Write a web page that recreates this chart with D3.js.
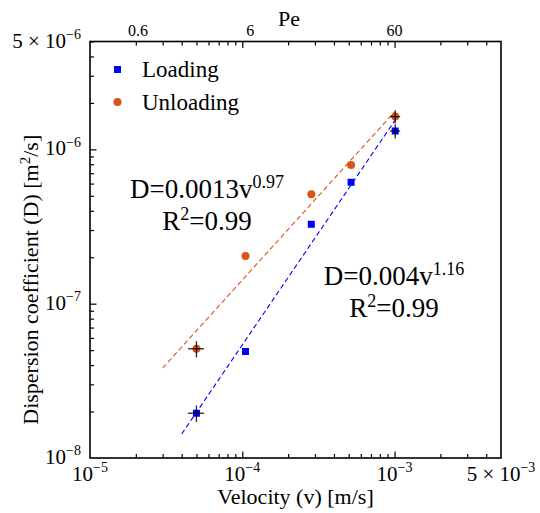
<!DOCTYPE html>
<html>
<head>
<meta charset="utf-8">
<script src="https://cdn.jsdelivr.net/npm/d3@7"></script>
<style>
  body { margin: 0; background: #fff; }
  #chart text, #chart tspan { font-family: serif !important; }
</style>
</head>
<body>
<svg id="chart" width="540" height="513" font-family="serif"></svg>
<script>
// measured values (velocity in m/s, dispersion coefficient in m^2/s)
const velocity = [5e-5, 1.05e-4, 2.84e-4, 5.18e-4, 1.01e-3];
const loadingD = [1.95e-8, 4.9e-8, 3.27e-7, 6.12e-7, 1.315e-6];
const unloadingD = [5.1e-8, 2.04e-7, 5.12e-7, 7.92e-7, 1.63e-6];

// error bars on first and last point of each series
const errIndex = [0, 4];
const loadingVErr = [6e-6, 7.8e-5];
const loadingDErr = [2.4e-9, 1.4e-7];
const unloadingVErr = [6e-6, 7.8e-5];
const unloadingDErr = [6.2e-9, 1.6e-7];

// power law fits, drawn between two end points
const fitLoadingV = [4e-5, 1.01e-3];
const fitLoadingD = [1.43e-8, 1.55e-6];
const fitUnloadingV = [3e-5, 1e-3];
const fitUnloadingD = [3.83e-8, 1.75e-6];

// axis ticks
const xMajor = [1e-5, 1e-4, 1e-3, 5e-3];
const xMajorExp = ['-5', '-4', '-3', '-3'];
const xMajorMant = [null, null, null, '5'];
const yMajor = [1e-8, 1e-7, 1e-6, 5e-6];
const yMajorExp = ['-8', '-7', '-6', '-6'];
const yMajorMant = [null, null, null, '5'];
const peLabels = ['0.6', '6', '60'];
const peAtVelocity = [2.07e-5, 1.13e-4, 1e-3];

const blue = '#0000ff';
const orange = '#d95319';
const font = 'serif';

const width = 540, height = 513;
const margin = { top: 41.5, right: 39, bottom: 55, left: 90 };

const svg = d3.select('#chart');

const xScale = d3.scaleLog().domain([1e-5, 5e-3]).range([margin.left, width - margin.right]);
const yScale = d3.scaleLog().domain([1e-8, 5e-6]).range([height - margin.bottom, margin.top]);

const x0 = xScale.range()[0], x1 = xScale.range()[1];
const yB = yScale.range()[0], yT = yScale.range()[1];

// minor tick values: 2..9 x 10^k within domain
function minorTicks(domain) {
	const out = [];
	for (let k = Math.floor(Math.log10(domain[0])); k <= Math.ceil(Math.log10(domain[1])); k++) {
		for (let m = 2; m <= 9; m++) {
			const v = m * Math.pow(10, k);
			if (v > domain[0] && v < domain[1]) out.push(v);
		}
	}
	return out;
}
const xMinor = minorTicks(xScale.domain());
const yMinor = minorTicks(yScale.domain());

// ticks, all pointing inwards (d3 axes, labels drawn separately)
function tickGroup(axis, transform) {
	const g = svg.append('g').attr('transform', transform);
	g.call(axis.tickFormat(''));
	g.attr('font-family', null).attr('font-size', null);
	g.select('.domain').remove();
	g.selectAll('.tick text').remove();
	g.selectAll('.tick line').attr('stroke', '#000').attr('stroke-width', 1.2);
	return g;
}
tickGroup(d3.axisBottom(xScale).tickValues(xMinor).tickSize(-4), `translate(0, ${yB})`);
tickGroup(d3.axisBottom(xScale).tickValues([1e-4, 1e-3]).tickSize(-6.5), `translate(0, ${yB})`);
tickGroup(d3.axisTop(xScale).tickValues(xMinor).tickSize(-4), `translate(0, ${yT})`);
tickGroup(d3.axisTop(xScale).tickValues([1e-4, 1e-3]).tickSize(-6.5), `translate(0, ${yT})`);
tickGroup(d3.axisLeft(yScale).tickValues(yMinor).tickSize(-4), `translate(${x0}, 0)`);
tickGroup(d3.axisLeft(yScale).tickValues([1e-7, 1e-6]).tickSize(-6.5), `translate(${x0}, 0)`);

// frame
svg.append('rect')
	.attr('x', x0).attr('y', yT)
	.attr('width', x1 - x0).attr('height', yB - yT)
	.attr('fill', 'none').attr('stroke', '#000').attr('stroke-width', 1.6);

// text helper with a fixed font
function addText(x, y, size) {
	return svg.append('text')
		.attr('x', x).attr('y', y)
		.style('font-family', font)
		.attr('font-size', size)
		.attr('fill', '#000');
}

// power-of-ten label helper
function powerLabel(sel, mant, exp, bigSize, smallSize) {
	if (mant) sel.append('tspan').text(mant + ' \u00d7 ');
	sel.append('tspan').text('10');
	sel.append('tspan').attr('dy', -bigSize * 0.42).attr('font-size', smallSize).text('\u2212' + exp.slice(1));
}

// x tick labels
xMajor.forEach((v, i) => {
	const t = addText(xScale(v), yB + 23, 21).attr('text-anchor', 'middle');
	powerLabel(t, xMajorMant[i], xMajorExp[i], 21, 14);
});

// y tick labels
yMajor.forEach((v, i) => {
	const t = addText(x0 - 9, yScale(v) + 6, 21).attr('text-anchor', 'end');
	powerLabel(t, yMajorMant[i], yMajorExp[i], 21, 14);
});

// top Pe labels
svg.selectAll('.pe-label')
	.data(peLabels)
	.join('text')
	.attr('class', 'pe-label')
	.attr('x', (d, i) => xScale(peAtVelocity[i]))
	.attr('y', yT - 6)
	.attr('text-anchor', 'middle')
	.style('font-family', font)
	.attr('font-size', 16)
	.text(d => d);

addText(289, 26, 22).attr('text-anchor', 'middle').text('Pe');

// axis labels
addText((x0 + x1) / 2, 504, 22).attr('text-anchor', 'middle').text('Velocity (v) [m/s]');

const yLabel = svg.append('text')
	.attr('transform', `translate(38, ${(yT + yB) / 2 + 30}) rotate(-90)`)
	.attr('text-anchor', 'middle')
	.style('font-family', font)
	.attr('font-size', 22);
yLabel.append('tspan').text('Dispersion coefficient (D) [m');
yLabel.append('tspan').attr('dy', -8).attr('font-size', 15).text('2');
yLabel.append('tspan').attr('dy', 8).text('/s]');

// fit lines
const line = d3.line().x(d => xScale(d[0])).y(d => yScale(d[1]));
const plot = svg.append('g');

plot.append('path')
	.attr('d', line(d3.zip(fitUnloadingV, fitUnloadingD)))
	.attr('fill', 'none').attr('stroke', orange)
	.attr('stroke-width', 1.1).attr('stroke-dasharray', '5,3');

plot.append('path')
	.attr('d', line(d3.zip(fitLoadingV, fitLoadingD)))
	.attr('fill', 'none').attr('stroke', blue)
	.attr('stroke-width', 1.1).attr('stroke-dasharray', '5,3');

// markers
plot.selectAll('.load-pt')
	.data(d3.zip(velocity, loadingD))
	.join('rect')
	.attr('class', 'load-pt')
	.attr('x', d => xScale(d[0]) - 3.5)
	.attr('y', d => yScale(d[1]) - 3.5)
	.attr('width', 7).attr('height', 7)
	.attr('fill', blue);

plot.selectAll('.unload-pt')
	.data(d3.zip(velocity, unloadingD))
	.join('circle')
	.attr('class', 'unload-pt')
	.attr('cx', d => xScale(d[0]))
	.attr('cy', d => yScale(d[1]))
	.attr('r', 4)
	.attr('fill', orange);

// error bars
function errorBars(values, vErr, dErr) {
	errIndex.forEach((idx, k) => {
		const v = velocity[idx], d = values[idx];
		plot.append('line')
			.attr('x1', xScale(v - vErr[k])).attr('x2', xScale(v + vErr[k]))
			.attr('y1', yScale(d)).attr('y2', yScale(d))
			.attr('stroke', '#000').attr('stroke-width', 1.3).attr('stroke-opacity', 0.85);
		plot.append('line')
			.attr('x1', xScale(v)).attr('x2', xScale(v))
			.attr('y1', yScale(d - dErr[k])).attr('y2', yScale(d + dErr[k]))
			.attr('stroke', '#000').attr('stroke-width', 1.3).attr('stroke-opacity', 0.85);
	});
}
errorBars(loadingD, loadingVErr, loadingDErr);
errorBars(unloadingD, unloadingVErr, unloadingDErr);

// legend
svg.append('rect').attr('x', 114).attr('y', 66).attr('width', 7).attr('height', 7).attr('fill', blue);
addText(142, 77, 23).text('Loading');
svg.append('circle').attr('cx', 117.5).attr('cy', 102).attr('r', 4).attr('fill', orange);
addText(142, 110, 23).text('Unloading');

// fit annotations
function fitText(x, y, coef, exp) {
	const t = addText(x, y, 27).attr('text-anchor', 'middle');
	t.append('tspan').text('D=' + coef + 'v');
	t.append('tspan').attr('dy', -10).attr('font-size', 18).text(exp);
	const r = addText(x, y + 32, 27).attr('text-anchor', 'middle');
	r.append('tspan').text('R');
	r.append('tspan').attr('dy', -10).attr('font-size', 18).text('2');
	r.append('tspan').attr('dy', 10).text('=0.99');
}
fitText(207, 198, '0.0013', '0.97');
fitText(394, 285, '0.004', '1.16');
</script>
</body>
</html>
